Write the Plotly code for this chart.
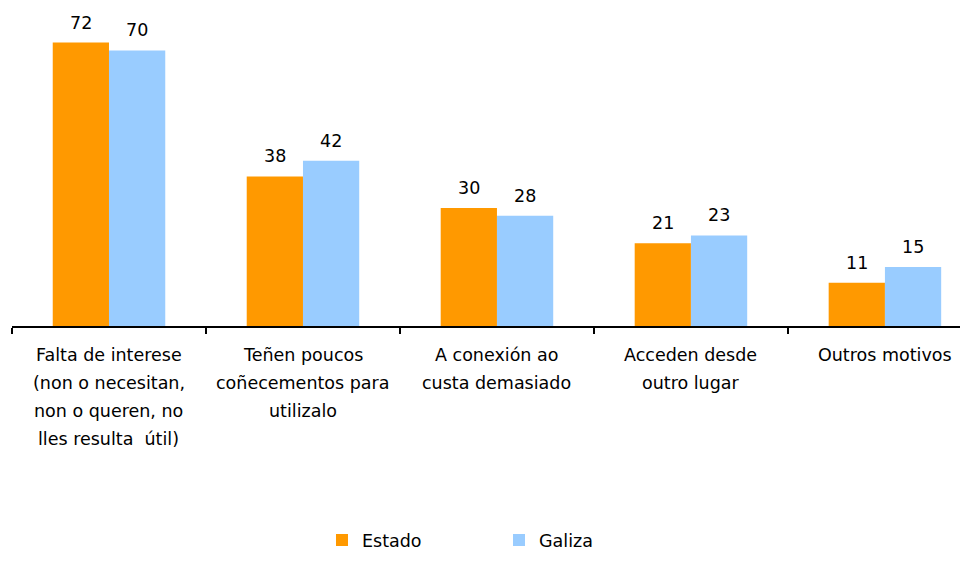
import plotly.graph_objects as go

# Datos
categorias = [
    "Falta de interese<br>(non o necesitan,<br>non o queren, no<br>lles resulta  útil)",
    "Teñen poucos<br>coñecementos para<br>utilizalo",
    "A conexión ao<br>custa demasiado",
    "Acceden desde<br>outro lugar",
    "Outros motivos",
]
estado = [72, 38, 30, 21, 11]
galiza = [70, 42, 28, 23, 15]

FONT = "DejaVu Sans, Verdana, sans-serif"
FS = 17.5
NARANXA = "#FF9900"
AZUL = "#99CCFF"

fig = go.Figure()
fig.add_trace(go.Bar(x=categorias, y=estado, name="Estado",
                     marker=dict(color=NARANXA, line=dict(width=0))))
fig.add_trace(go.Bar(x=categorias, y=galiza, name="Galiza",
                     marker=dict(color=AZUL, line=dict(width=0))))

# Etiquetas de valores sobre as barras
for serie, dx in ((estado, -28), (galiza, 28)):
    for cat, v in zip(categorias, serie):
        fig.add_annotation(x=cat, y=v, text=str(v), showarrow=False,
                           xshift=dx, yshift=20, yanchor="middle",
                           font=dict(family=FONT, size=FS, color="black"))

# Etiquetas das categorías (liña a liña, con máis interliñado)
for cat in categorias:
    for i, linea in enumerate(cat.split("<br>")):
        fig.add_annotation(x=cat, y=0, text=linea, showarrow=False,
                           yshift=-29 - 28 * i, yanchor="middle",
                           font=dict(family=FONT, size=FS, color="black"))

# o body da páxina leva 8 px de marxe: 952 + 16 = 968
fig.update_layout(
    width=952,
    height=546,
    margin=dict(l=4, r=0, t=3, b=228, autoexpand=False),
    plot_bgcolor="white",
    paper_bgcolor="white",
    barmode="group",
    bargap=0.42,
    bargroupgap=0,
    font=dict(family=FONT, size=FS, color="black"),
    showlegend=True,
    legend=dict(
        orientation="h",
        x=0.327, xanchor="left",
        y=-0.68, yanchor="middle",
        font=dict(family=FONT, size=FS, color="black"),
        entrywidth=132,
        itemsizing="constant",
        tracegroupgap=0,
    ),
    xaxis=dict(
        range=[-0.5, 4.387],
        showticklabels=False,
        ticks="outside",
        tickson="boundaries",
        ticklen=6,
        tickcolor="black",
        tickwidth=1.5,
        showline=True,
        linecolor="black",
        linewidth=1.5,
        showgrid=False,
    ),
    yaxis=dict(
        range=[0, 80],
        visible=False,
        showgrid=False,
        zeroline=False,
    ),
)

fig.write_html("out.html")
